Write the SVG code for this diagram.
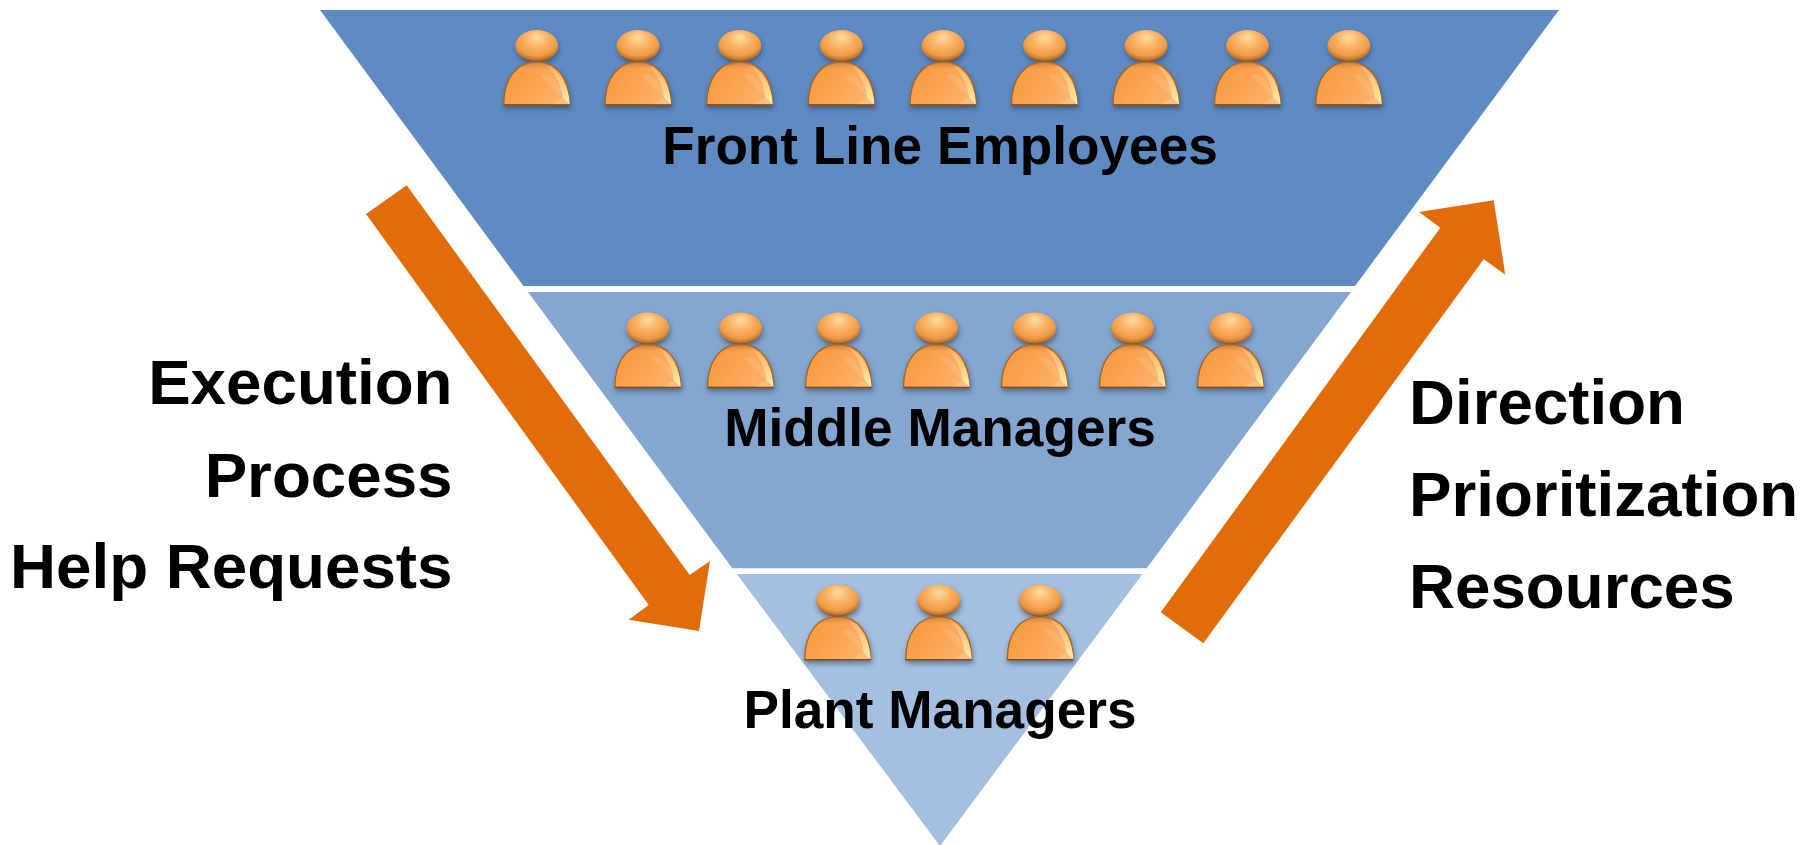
<svg xmlns="http://www.w3.org/2000/svg" width="1812" height="845" viewBox="0 0 1812 845">
<style>
text{font-family:"Liberation Sans",Arial,sans-serif;font-weight:700;fill:#000}
.tier{font-size:53.2px;text-anchor:middle}
.side{font-size:63.7px}
.arrow{fill:#E36C0A}
</style>
<defs>
<linearGradient id="bodyG" x1="0" y1="0.3" x2="1" y2="0.8">
<stop offset="0" stop-color="#F9983C"/><stop offset="0.5" stop-color="#FBA555"/><stop offset="1" stop-color="#FCB46C"/>
</linearGradient>
<linearGradient id="bodyTop" x1="0" y1="0" x2="0" y2="1">
<stop offset="0" stop-color="#A86A32" stop-opacity="0.8"/><stop offset="1" stop-color="#F7A050" stop-opacity="0"/>
</linearGradient>
<linearGradient id="edgeG" x1="0" y1="0" x2="0" y2="1">
<stop offset="0" stop-color="#FBB56C"/><stop offset="0.6" stop-color="#FFD48C"/><stop offset="1" stop-color="#FFF0B0"/>
</linearGradient>
<radialGradient id="headG" cx="0.5" cy="0.36" r="0.62" fx="0.5" fy="0.22">
<stop offset="0" stop-color="#FFDDA0"/><stop offset="0.45" stop-color="#FBB163"/><stop offset="0.78" stop-color="#EE9A45"/><stop offset="0.92" stop-color="#BE7C36"/><stop offset="1" stop-color="#86592A"/>
</radialGradient>
<filter id="sh" x="-20%" y="-20%" width="140%" height="140%">
<feDropShadow dx="1" dy="3" stdDeviation="2.500" flood-color="#1F3350" flood-opacity="0.5"/>
</filter>
<g id="person" filter="url(#sh)">
<path d="M-33,59C-33,32 -20,16 0,16C20,16 33,32 33,59Z" fill="url(#bodyG)" stroke="#A4641F" stroke-width="1.300"/>
<path d="M-11,17.500C-4,15 4,15 11,17.500C15,20 17,22 19,24.500C8,21.500 -8,21.500 -19,24.500C-17,22 -15,20 -11,17.500Z" fill="url(#bodyTop)"/>
<path d="M33,58.500L4,30C12,24 24,38 33,58.500Z" fill="#FFFFFF" opacity="0.1"/>
<path d="M33,58.500L26,51.500L15,58.500Z" fill="#F9BE84"/>
<path d="M33,58.500C32.500,41 24,27 11,19.500C20,29 25,41 26,51.500Z" fill="url(#edgeG)"/>
<path d="M-33,59H33" stroke="#7E4E1C" stroke-width="1.600" fill="none"/>
<ellipse cx="0" cy="0" rx="21.500" ry="16" fill="url(#headG)"/>
</g>
</defs>
<rect width="1812" height="845" fill="#FFFFFF"/>
<g id="front-line-employees">
<polygon points="320,10 1559,10 1355,286 523.500,286" fill="#5F8BC3"/>
<use href="#person" x="536.700" y="46"/><use href="#person" x="638" y="46"/><use href="#person" x="739.700" y="46"/><use href="#person" x="841.300" y="46"/><use href="#person" x="943" y="46"/><use href="#person" x="1044.500" y="46"/><use href="#person" x="1146" y="46"/><use href="#person" x="1247.500" y="46"/><use href="#person" x="1348.800" y="46"/>
<text class="tier" x="940" y="164.300">Front Line Employees</text>
</g>
<g id="middle-managers">
<polygon points="528,292 1351,292 1146.700,568.300 732.300,568.300" fill="#83A7D0"/>
<use href="#person" x="647.800" y="328.500"/><use href="#person" x="740.500" y="328.500"/><use href="#person" x="838.500" y="328.500"/><use href="#person" x="936.500" y="328.500"/><use href="#person" x="1034.500" y="328.500"/><use href="#person" x="1132.500" y="328.500"/><use href="#person" x="1230.500" y="328.500"/>
<text class="tier" x="940" y="446">Middle Managers</text>
</g>
<g id="plant-managers">
<polygon points="736.700,574 1142.500,574 940,846" fill="#A4BFDF"/>
<use href="#person" x="837.700" y="600.700"/><use href="#person" x="938.700" y="600.700"/><use href="#person" x="1040.300" y="600.700"/>
<text class="tier" x="940" y="728.300">Plant Managers</text>
</g>
<g id="connectors">
<polygon class="arrow" points="406.700,185.300 366,214 648.700,605 628.700,619.700 699,631 710,561 689.700,575"/>
<polygon class="arrow" points="1160.700,612.300 1203.300,643.300 1483.700,259.300 1505.300,274.700 1493.700,200.300 1419,212 1440.300,227.700"/>
</g>
<g id="label-left">
<text class="side" text-anchor="end" x="452.500" y="404.300">Execution</text>
<text class="side" text-anchor="end" x="452.500" y="496.700">Process</text>
<text class="side" text-anchor="end" x="452.500" y="588.300">Help Requests</text>
</g>
<g id="label-right">
<text class="side" x="1409" y="424">Direction</text>
<text class="side" x="1409" y="515.700">Prioritization</text>
<text class="side" x="1409" y="608.300">Resources</text>
</g>
</svg>
